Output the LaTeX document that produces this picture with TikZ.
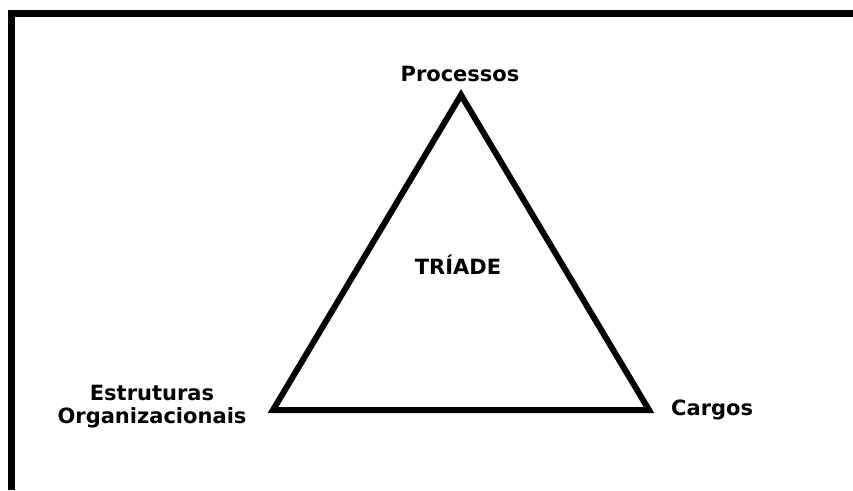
\documentclass[tikz,border=0pt]{standalone}
\usepackage{fontspec}
\setmainfont{DejaVu Sans}
\usetikzlibrary{positioning}

\tikzset{
	lbl/.style={font=\fontsize{21}{23}\selectfont\bfseries, inner sep=0pt},
	side/.style={line width=6pt, line join=miter}
}

\begin{document}
\begin{tikzpicture}[x=1pt,y=1pt]
		\useasboundingbox (0,0) rectangle (853,490);
		% frame, only left and top edges
		\draw[line width=7pt] (11.5,0) -- (11.5,476.5) -- (853,476.5);

		\coordinate (proc) at (461,395);
		\coordinate (estr) at (273,80);
		\coordinate (carg) at (649,80);
		\draw[side] (proc) -- (carg) -- (estr) -- cycle;

		\node[lbl,anchor=base] (lproc) at (460,408) {Processos};
		\node[lbl,anchor=base] (ltri) at (458,215) {TRÍADE};
		\node[lbl,anchor=base west] (lcarg) at (671,75) {Cargos};
		\node[lbl,align=center] (lestr) at (152,83) {Estruturas\\Organizacionais};
	\end{tikzpicture}
\end{document}
